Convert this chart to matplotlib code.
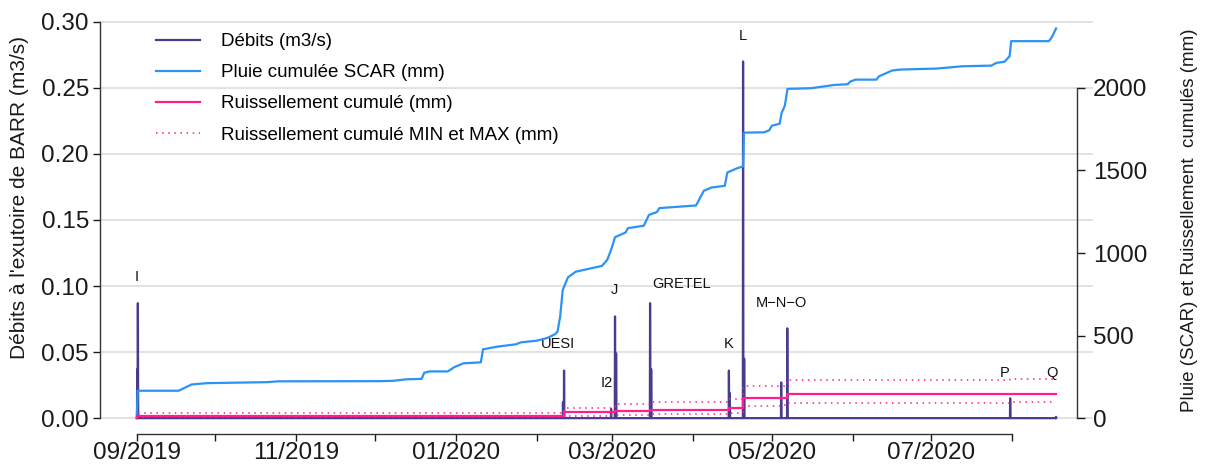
import matplotlib
matplotlib.use("Agg")
import matplotlib.pyplot as plt
import matplotlib.dates as mdates
import pandas as pd

plt.rcParams['font.family'] = ['Liberation Sans', 'DejaVu Sans']


def to_dt(v):
    return pd.to_datetime(v, format='ISO8601')


# ---------------- data ----------------
series_start = "2019-09-01 00:00"
series_end = "2020-08-17 20:00"

# discharge peaks (m3/s)
debit_dates = ["2019-09-01 04:00", "2019-09-01 10:00", "2020-02-11 02:00", "2020-02-11 12:00",
               "2020-02-29 12:00", "2020-03-02 00:00", "2020-03-02 10:00", "2020-03-15 10:00",
               "2020-03-15 20:00", "2020-04-14 14:00", "2020-04-14 22:00", "2020-04-20 00:00",
               "2020-04-20 10:00", "2020-05-04 14:00", "2020-05-06 22:00", "2020-07-31 05:00",
               "2020-08-17 18:00"]
debit_peaks = [0.037, 0.087, 0.012, 0.036,
               0.007, 0.077, 0.049, 0.087,
               0.037, 0.036, 0.019, 0.270,
               0.045, 0.027, 0.068, 0.015,
               0.001]

# cumulative rain SCAR (mm)
rain_dates = ["2019-09-01 00:00", "2019-09-01 08:00", "2019-09-17", "2019-09-22", "2019-09-28",
              "2019-10-21", "2019-10-25", "2019-12-03", "2019-12-08", "2019-12-13",
              "2019-12-19", "2019-12-20", "2019-12-22", "2019-12-29", "2019-12-31 12:00",
              "2020-01-04", "2020-01-10 16:00", "2020-01-11 12:00", "2020-01-17", "2020-01-24",
              "2020-01-26", "2020-02-01", "2020-02-05", "2020-02-08", "2020-02-09",
              "2020-02-10", "2020-02-11", "2020-02-13", "2020-02-16", "2020-02-26",
              "2020-02-28", "2020-02-29 12:00", "2020-03-02", "2020-03-06", "2020-03-07",
              "2020-03-13", "2020-03-15", "2020-03-18", "2020-03-19", "2020-04-02",
              "2020-04-05", "2020-04-08", "2020-04-13", "2020-04-14", "2020-04-18",
              "2020-04-20 00:00", "2020-04-20 08:00", "2020-04-28", "2020-04-30", "2020-05-01",
              "2020-05-04", "2020-05-04 18:00", "2020-05-06", "2020-05-07", "2020-05-16",
              "2020-05-25", "2020-05-30", "2020-05-31", "2020-06-02", "2020-06-10",
              "2020-06-11", "2020-06-16", "2020-06-19", "2020-07-03", "2020-07-13",
              "2020-07-24", "2020-07-26", "2020-07-29", "2020-07-31 00:00", "2020-07-31 14:00",
              "2020-08-15", "2020-08-16", "2020-08-17 19:00"]
rain_mm = [0, 166, 166, 204, 212, 218, 223, 224, 226, 235,
           238, 275, 283, 283, 309, 332, 338, 417, 433, 447,
           459, 469, 485, 508, 523, 614, 776, 853, 887, 922,
           958, 1019, 1096, 1124, 1151, 1165, 1231, 1248, 1272, 1288,
           1377, 1397, 1407, 1488, 1515, 1524, 1729, 1731, 1743, 1771,
           1783, 1848, 1893, 1994, 1998, 2018, 2022, 2038, 2050, 2050,
           2070, 2105, 2111, 2117, 2131, 2135, 2152, 2158, 2192, 2283,
           2283, 2303, 2360]

# cumulative runoff (mm)
runoff_dates = ["2019-09-01 00:00", "2019-09-01 06:00", "2020-02-11 12:00", "2020-02-29 12:00",
                "2020-03-02 00:00", "2020-03-15 10:00", "2020-04-14 14:00", "2020-04-20 00:00",
                "2020-05-04 14:00", "2020-05-06 22:00", "2020-07-31 05:00", "2020-08-17 20:00"]
runoff_mm = [0, 15, 35, 40, 46, 51, 61, 119, 121, 145, 149, 149]
runoff_min_mm = [0, 8, 14, 18, 22, 26, 30, 75, 77, 93, 95, 95]
runoff_max_mm = [0, 32, 60, 70, 85, 97, 113, 194, 197, 230, 236, 236]

# event labels
event_labels = ["I", "UESI", "I2", "J", "GRETEL", "K", "L", "M\u2212N\u2212O", "P", "Q"]

# ---------------- layout ----------------
label_pos = [("2019-09-01 00:00", 0.107), ("2020-02-09 05:00", 0.056), ("2020-02-27 22:00", 0.0265),
             ("2020-03-01 14:00", 0.097), ("2020-03-27 07:00", 0.1015), ("2020-04-14 14:00", 0.056),
             ("2020-04-20 00:00", 0.289), ("2020-05-04 14:00", 0.0873), ("2020-07-28 22:00", 0.034),
             ("2020-08-16 07:00", 0.034)]

W, H = 1205, 466
fig = plt.figure(figsize=(W / 100, H / 100), dpi=100)
L_, R_, T_, B_ = 100, 1093, 6, 434
ax = fig.add_axes([L_ / W, 1 - B_ / H, (R_ - L_) / W, (B_ - T_) / H])
ax2 = ax.twinx()

c_deb = "#483D8B"
c_rain = "#2A93F5"
c_run = "#FF1E8C"

t0 = pd.Timestamp(series_start)
t1 = pd.Timestamp(series_end)

# hydrograph
pts = [(t0, 0.0)]
for d, p in sorted(zip(to_dt(debit_dates), debit_peaks)):
    pts += [(d - pd.Timedelta(hours=2), 0.0), (d, p), (d + pd.Timedelta(hours=3), 0.0)]
pts.append((t1, 0.0))
hx = [p[0] for p in pts]
hy = [p[1] for p in pts]
h1, = ax.plot(hx, hy, color=c_deb, lw=1.6, label="Débits (m3/s)", zorder=3)

h2, = ax2.plot(to_dt(rain_dates), rain_mm, color=c_rain, lw=1.6,
               label="Pluie cumulée SCAR (mm)")
rd = to_dt(runoff_dates)
h3, = ax2.plot(rd, runoff_mm, color=c_run, lw=1.6, drawstyle='steps-post',
               label="Ruissellement cumulé (mm)")
h4, = ax2.plot(rd, runoff_max_mm, color=c_run, lw=1.1, ls=(0, (1, 3)), drawstyle='steps-post',
               label="Ruissellement cumulé MIN et MAX (mm)")
ax2.plot(rd, runoff_min_mm, color=c_run, lw=1.1, ls=(0, (1, 3)), drawstyle='steps-post')

for lab, (d, y) in zip(event_labels, label_pos):
    ax.text(pd.Timestamp(d), y, lab, ha='center', va='center', fontsize=10.5, color='#111111')

# limits (R-style 4% extension)
span = t1 - t0
ax.set_xlim(t0 - 0.04 * span, t1 + 0.04 * span)
ax.set_ylim(-0.012, 0.312)
ax2.set_ylim(-96, 2496)

# x axis
months = pd.date_range("2019-09-01", "2020-08-01", freq="MS")
ax.set_xticks(months)
ax.set_xticklabels([m.strftime("%m/%Y") if i % 2 == 0 else "" for i, m in enumerate(months)])
ax.spines['bottom'].set_bounds(mdates.date2num(months[0]), mdates.date2num(months[-1]))
ax.tick_params(axis='x', length=5, width=1, pad=0.5, labelsize=17.5, colors='#1a1a1a')

# left axis
yt = [0.0, 0.05, 0.10, 0.15, 0.20, 0.25, 0.30]
ax.set_yticks(yt)
ax.set_yticklabels([f"{v:.2f}" for v in yt])
ax.spines['left'].set_bounds(0, 0.30)
ax.tick_params(axis='y', length=5, width=1, pad=3, labelsize=17.5, colors='#1a1a1a')
ax.yaxis.grid(True, color='#DADADA', lw=1.1)
ax.set_axisbelow(True)

for a in (ax, ax2):
    a.spines['top'].set_visible(False)
ax.spines['right'].set_visible(False)
ax2.spines['left'].set_visible(False)
ax2.spines['bottom'].set_visible(False)

# right axis
ax2.spines['right'].set_position(('axes', (1077 - L_) / (R_ - L_)))
ax2.spines['right'].set_bounds(0, 2000)
ax2.set_yticks([0, 500, 1000, 1500, 2000])
ax2.tick_params(axis='y', length=5.5, width=1, pad=6, labelsize=17.5, colors='#1a1a1a')
for a in (ax, ax2):
    for s in a.spines.values():
        s.set_color('#333333')
        s.set_linewidth(1)

fig.text(20 / W, 1 - 198 / H, "Débits à l'exutoire de BARR (m3/s)", rotation=90,
         ha='center', va='center', fontsize=15, color='#1a1a1a')
fig.text(1190 / W, 1 - 220 / H, "Pluie (SCAR) et Ruissellement  cumulés (mm)", rotation=90,
         ha='center', va='center', fontsize=13.5, color='#1a1a1a')

leg = ax2.legend(handles=[h1, h2, h3, h4], loc='upper left',
                 bbox_to_anchor=(156 / W, 1 - 33 / H), bbox_transform=fig.transFigure,
                 frameon=False, fontsize=13.5, handlelength=2.35, handletextpad=1.1,
                 labelspacing=0.75, borderpad=0, borderaxespad=0)

fig.savefig("out.png", dpi=100)
